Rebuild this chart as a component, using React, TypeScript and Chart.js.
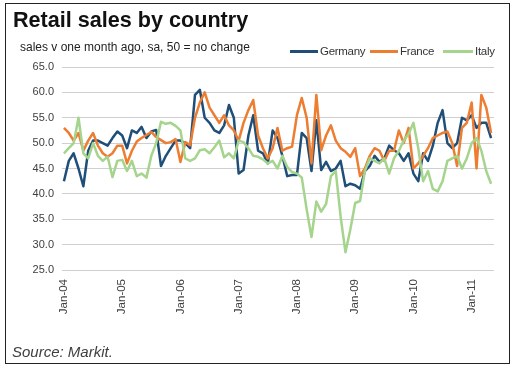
import React, { useEffect, useRef } from "react";
import { Chart, registerables } from "chart.js";

Chart.register(...registerables);

const years = ["04", "05", "06", "07", "08", "09", "10", "11"];
const monthNames = ["Jan", "Feb", "Mar", "Apr", "May", "Jun", "Jul", "Aug", "Sep", "Oct", "Nov", "Dec"];
const months: string[] = [];
years.forEach((y) => monthNames.forEach((m) => months.push(`${m}-${y}`)));
months.length = 89; // Jan-04 .. May-11

const xTickMonths = [0, 12, 24, 36, 48, 60, 72, 84];
const yTicks = [25, 30, 35, 40, 45, 50, 55, 60, 65];

const germany = [
  42.5, 46.5, 48, 45, 41.5, 48.5, 50.5, 50.5, 50, 49.5, 51, 52.3,
  51.5, 49, 52.5, 52, 53.2, 51, 52.3, 52.6, 45.5, 47.5, 49, 50.5,
  50.5, 50, 49, 59.5, 60.5, 55, 54, 52.5, 52, 53.5, 57.5, 55,
  44, 44.7, 51.5, 55.5, 48.5, 48, 46, 52.5, 51, 47.5, 43.5, 43.7,
  43.7, 52, 51, 44.5, 54.5, 44.7, 46.3, 44.5, 45, 46.5, 41.5, 42,
  41.7, 41, 44.5, 45.5, 47.5, 46.3, 47, 49.5, 48.6, 48, 46.5, 48,
  44, 42.5, 48, 46.5, 49.5, 54, 56.5, 50, 49, 50, 55, 54.5,
  55.5, 53, 54, 54, 51,
];

const france = [
  53, 52, 50.5, 52, 48.5, 50.5, 52, 49.5, 48, 47.3, 48, 49.5,
  49.5, 46, 48.5, 50.3, 51, 51.6, 52.2, 51.2, 50.6, 50, 50.2, 50.8,
  46.3, 50.2, 49.6, 55, 58, 60, 57, 55.5, 54, 55.5, 53.5, 52.5,
  50.5, 54, 56.5, 58.5, 51.5, 49, 47, 49, 53, 48.5, 49, 49.3,
  55.5, 58.9, 55, 46, 59.5, 48.6, 51.5, 53.5, 50.5, 49, 48.3, 47.3,
  49, 43.5, 45, 47.5, 49, 48.5, 46.5, 48.5, 48.5, 52.5, 50, 53,
  45, 46, 47.5, 49, 51, 51.5, 52, 52.3, 50, 45.5, 53, 54,
  58, 45, 59.5, 57, 52,
];

const italy = [
  48, 49, 50, 55, 48, 47, 50, 47.5, 46.5, 47.3, 43.3, 46.5,
  46.7, 44.5, 46.5, 43.5, 44, 43.2, 47.5, 50, 54.2, 53.8, 54, 53.4,
  52.5, 47, 46.5, 47, 48.6, 48.8, 48, 49.2, 50.5, 47.2, 48, 47,
  50.5, 50.2, 49, 47.5, 47.3, 46.8, 46, 46.5, 45, 47.5, 45.3, 44.3,
  44, 43.2, 37, 31.5, 38.5, 36.5, 38, 43.5, 44.5, 35.5, 28.5, 33,
  38.2, 38.6, 44.5, 47, 46.5, 46, 47, 44, 47, 48.5, 50.5, 51.8,
  54, 49, 42.5, 44.5, 41, 40.5, 42.5, 46.5, 47, 47.5, 45, 47,
  50, 51, 48.5, 44.5, 42,
];

const seriesNames = ["Germany", "France", "Italy"];
const seriesColors = ["#1f4e79", "#ed7d31", "#a5d48c"];
const seriesData = [germany, france, italy];

const FONT = "'Liberation Sans', Arial, sans-serif";

export default function App() {
  const ref = useRef<HTMLCanvasElement>(null);

  useEffect(() => {
    if (!ref.current) return;
    const chart = new Chart(ref.current, {
      type: "line",
      data: {
        datasets: seriesData.map((arr, k) => ({
          label: seriesNames[k],
          data: arr.map((v, i) => ({ x: i, y: v })),
          borderColor: seriesColors[k],
          backgroundColor: seriesColors[k],
          borderWidth: 2.5,
          pointRadius: 0,
          tension: 0,
          borderJoinStyle: "round",
          fill: false,
          order: 2 - k,
        })),
      },
      options: {
        animation: false,
        responsive: false,
        devicePixelRatio: 1,
        layout: { padding: { top: 67, right: 20, bottom: 14, left: 0 } },
        plugins: { legend: { display: false }, title: { display: false }, tooltip: { enabled: false } },
        scales: {
          x: {
            type: "linear",
            min: -0.4,
            max: 88.6,
            grid: { display: false, drawTicks: false },
            border: { display: false },
            afterBuildTicks: (s: any) => {
              s.ticks = xTickMonths.map((v) => ({ value: v }));
            },
            afterFit: (s: any) => {
              s.height = 90;
            },
            ticks: {
              autoSkip: false,
              minRotation: 90,
              maxRotation: 90,
              padding: 9,
              color: "#404040",
              font: { family: FONT, size: 11.5 },
              callback: (v: any) => months[v as number],
            },
          },
          y: {
            min: 25,
            max: 65,
            grid: { color: "#cfcfcf", lineWidth: 1, drawTicks: false },
            border: { display: false },
            afterBuildTicks: (s: any) => {
              s.ticks = yTicks.map((v) => ({ value: v }));
            },
            afterFit: (s: any) => {
              s.width = 62;
            },
            ticks: {
              padding: 8,
              color: "#404040",
              font: { family: FONT, size: 11 },
              callback: (v: any) => Number(v).toFixed(1),
            },
          },
        },
      },
    } as any);
    return () => chart.destroy();
  }, []);

  const legendItem = (name: string, color: string, lineLeft: number, lineW: number, textLeft: number) => (
    <React.Fragment key={name}>
      <div style={{ position: "absolute", left: lineLeft, top: 50, width: lineW, height: 3, background: color }} />
      <div
        style={{
          position: "absolute",
          left: textLeft,
          top: 44,
          fontFamily: FONT,
          fontSize: 11.5,
          lineHeight: "14px",
          color: "#333",
          letterSpacing: -0.3,
          whiteSpace: "nowrap",
        }}
      >
        {name}
      </div>
    </React.Fragment>
  );

  return (
    <div style={{ position: "absolute", left: 0, top: 0, width: 514, height: 374, background: "#fff" }}>
      <div
        style={{
          position: "absolute",
          left: 5,
          top: 3,
          width: 503,
          height: 359,
          border: "1px solid #222",
        }}
      />
      <canvas ref={ref} width={514} height={374} style={{ position: "absolute", left: 0, top: 0, width: 514, height: 374 }} />
      <div
        style={{
          position: "absolute",
          left: 13,
          top: 9,
          fontFamily: FONT,
          fontWeight: "bold",
          fontSize: 21.6,
          lineHeight: "22px",
          color: "#111",
          whiteSpace: "nowrap",
        }}
      >
        Retail sales by country
      </div>
      <div
        style={{
          position: "absolute",
          left: 20,
          top: 41,
          fontFamily: FONT,
          fontSize: 12,
          lineHeight: "13px",
          color: "#222",
          whiteSpace: "nowrap",
        }}
      >
        sales v one month ago, sa, 50 = no change
      </div>
      {legendItem("Germany", seriesColors[0], 290, 28, 320)}
      {legendItem("France", seriesColors[1], 370, 28, 400)}
      {legendItem("Italy", seriesColors[2], 443, 30, 475)}
      <div
        style={{
          position: "absolute",
          left: 12,
          top: 343,
          fontFamily: FONT,
          fontStyle: "italic",
          fontSize: 15,
          lineHeight: "17px",
          color: "#404040",
          whiteSpace: "nowrap",
        }}
      >
        Source: Markit.
      </div>
    </div>
  );
}
